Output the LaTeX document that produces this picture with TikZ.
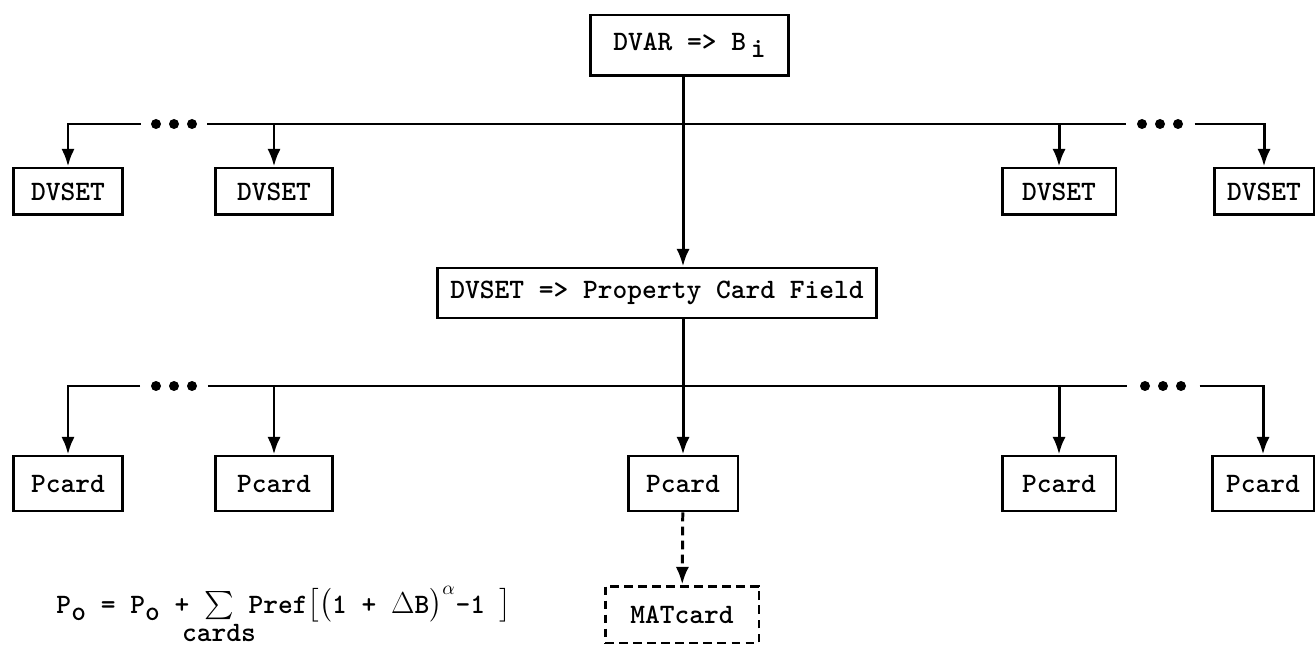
\documentclass[tikz,border=0pt]{standalone}
\usepackage{amsmath,amssymb}
\usepackage{tikz}
\usetikzlibrary{arrows,arrows.meta}

\newcommand{\cardfont}{\fontsize{16}{19}\selectfont\ttfamily\bfseries}
\tikzset{
  card/.style={draw, line width=1.7pt, inner sep=0pt, minimum width=2.2cm,
    minimum height=0.94cm, font=\cardfont},
  gap/.style={inner sep=0pt, minimum height=0pt},
}

\begin{document}
\begin{tikzpicture}[x=0.02cm,y=-0.02cm,line width=1.7pt,
    >={Latex[length=10pt,width=7.5pt]}]
  \useasboundingbox (0,0) rectangle (1315,648);
  % boxes
  \node[card, minimum width=3.98cm, minimum height=1.22cm] (dvar) at (689.5,45.5)
    {DVAR => B\,\raisebox{-0.6ex}{i}};
  \node[card] (ds1) at (68,191.5) {DVSET};
  \node[card, minimum width=2.36cm] (ds2) at (274,191.5) {DVSET};
  \node[card, minimum width=2.28cm] (ds3) at (1059,191.5) {DVSET};
  \node[card, minimum width=2cm] (ds4) at (1264,191.5) {DVSET};
  \node[card, minimum width=8.8cm, minimum height=1cm] (field) at (657,293)
    {DVSET => Property Card Field};
  \node[card, minimum height=1.1cm] (pc1) at (68,483.5) {Pcard};
  \node[card, minimum width=2.36cm, minimum height=1.1cm] (pc2) at (274,483.5) {Pcard};
  \node[card, minimum height=1.1cm] (pc3) at (683,483.5) {Pcard};
  \node[card, minimum width=2.28cm, minimum height=1.1cm] (pc4) at (1059,483.5) {Pcard};
  \node[card, minimum width=2.04cm, minimum height=1.1cm] (pc5) at (1263,483.5) {Pcard};
  \node[card, dashed, dash pattern=on 5pt off 3pt, minimum width=3.08cm,
    minimum height=1.14cm] (mat) at (682,614.5) {MATcard};

  % buses with gaps for the dots
  \coordinate (trunk) at (683,124);
  \node[gap, minimum width=1.28cm] (udl) at (174,124) {};
  \node[gap, minimum width=1.32cm] (udr) at (1160,124) {};
  \node[gap, minimum width=1.3cm] (ldl) at (174,386) {};
  \node[gap, minimum width=1.4cm] (ldr) at (1163,386) {};
  \foreach \g in {udl,udr,ldl,ldr}
    \foreach \s in {-18,0,18}
      \fill ([xshift={\s*0.02cm}]\g.center) circle (0.1cm);

  \draw[->] (udl.west) -| (ds1);
  \draw (udl.east) -- (udr.west);
  \draw[->] (udr.east) -| (ds4);
  \path[->] (ds2 |- udl) edge (ds2)
    (ds3 |- udr) edge (ds3)
    (dvar.south -| trunk) edge (field.north -| trunk);

  \draw[->] (ldl.west) -| (pc1);
  \draw (ldl.east) -- (ldr.west);
  \draw[->] (ldr.east) -| (pc5);
  \path[->] (pc2 |- ldl) edge (pc2)
    (pc4 |- ldr) edge (pc4)
    (field.south -| pc3) edge (pc3);
  \draw[->, dashed, dash pattern=on 5pt off 3pt] (pc3) -- (mat);

  % update rule
  \node[anchor=base west, font=\cardfont, inner sep=0pt] (rule) at (55,613)
    {P\raisebox{-0.6ex}{o} = P\raisebox{-0.6ex}{o} + $\sum\limits_{\makebox[0pt]{\cardfont cards}}$ Pref$\bigl[\bigl($1 + $\Delta$B$\bigr)^{\alpha}$-1 $\bigr]$};
\end{tikzpicture}
\end{document}
